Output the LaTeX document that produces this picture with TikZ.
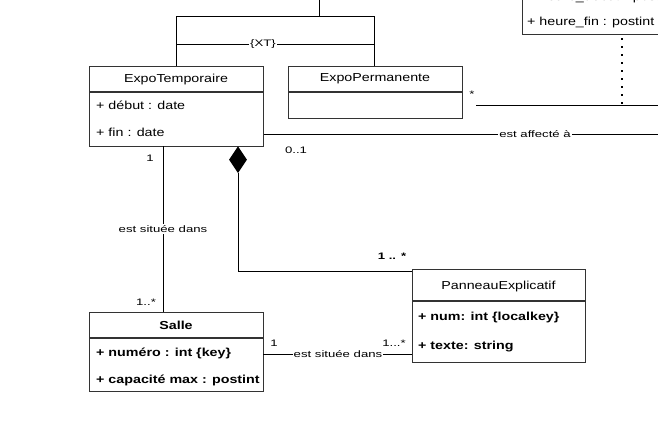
\documentclass[tikz,border=0pt]{standalone}
\usepackage{fontspec}
\setmainfont{Liberation Sans}[FakeStretch=1.23]
\newfontfamily\labfont{Liberation Sans}[FakeStretch=1.4]
\usetikzlibrary{shapes.geometric}
\tikzset{
  x=1pt, y=-1pt,
  cls/.style={draw=black!80, line width=1.2pt, fill=white, inner sep=0pt},
  divl/.style={draw=black!80, line width=1.2pt},
  title/.style={inner sep=0pt, anchor=center, font=\fontsize{11.6}{13}\selectfont},
  attr/.style={inner sep=0pt, anchor=west, font=\fontsize{11.6}{13}\selectfont},
  battr/.style={attr, font=\fontsize{11.6}{13}\selectfont\bfseries},
  conn/.style={draw=black, line width=0.9pt},
  lab/.style={inner sep=1pt, font=\labfont\fontsize{9.4}{11}\selectfont},
  wlab/.style={lab, fill=white},
}
\begin{document}
\begin{tikzpicture}
\useasboundingbox (0,0) rectangle (658,426);
\clip (0,0) rectangle (658,426);

% top-right partial class
\node[cls, minimum width=200, minimum height=80, anchor=south west] (cut) at (522,35) {};
\node[attr] (cuta) at (527,-3) {+ heure\_début : postint};
\node[attr] (cutb) at (527,22) {+ heure\_fin : postint};

% ExpoTemporaire
\node[cls, minimum width=174, minimum height=80, anchor=north west] (et) at (89,66) {};
\draw[divl] (89,92) -- (263,92);
\node[title] (etn) at (176,79) {ExpoTemporaire};
\node[attr] (eta) at (96,105) {+ début : date};
\node[attr] (etb) at (96,132) {+ fin : date};

% ExpoPermanente
\node[cls, minimum width=174, minimum height=52, anchor=north west] (ep) at (288,66) {};
\draw[divl] (288,92) -- (462,92);
\node[title] (epn) at (375,79) {ExpoPermanente};

% Salle
\node[cls, minimum width=174, minimum height=79, anchor=north west] (sa) at (89,312) {};
\draw[divl] (89,338) -- (263,338);
\node[title, font=\fontsize{11.6}{13}\selectfont\bfseries] (san) at (176,325) {Salle};
\node[battr] (saa) at (96,353) {+ numéro : int \{key\}};
\node[battr] (sab) at (96,380) {+ capacité max : postint};

% PanneauExplicatif
\node[cls, minimum width=173, minimum height=93, anchor=north west] (pe) at (412,269) {};
\draw[divl] (412,301) -- (585,301);
\node[title] (pen) at (498.5,286) {PanneauExplicatif};
\node[battr] (pea) at (418,317) {+ num: int \{localkey\}};
\node[battr] (peb) at (418,347) {+ texte: string};

% generalization {XT}
\coordinate (gtop) at (319,0);
\coordinate (gl) at (176,16);
\coordinate (gr) at (374,16);
\draw[conn] (gtop) -- (gtop |- gl);
\draw[conn] (gl) -- (gr);
\draw[conn] (gl) -- (et.north -| gl);
\draw[conn] (gr) -- (ep.north -| gr);
\coordinate (xtl) at (176,44);
\coordinate (xtr) at (374,44);
\draw[conn] (xtl) -- (xtr) node[wlab, midway, xshift=-12pt] (xt) {\{XT\}};

% ExpoPermanente association to the right
\coordinate (epr) at (476,105);
\coordinate (eprr) at (658,105);
\draw[conn] (epr) -- (eprr);
\node[lab] (epm) at (472,94) {*};
\coordinate (dtop) at (622,38);
\coordinate (dbot) at (622,105);
\draw[draw=black, line width=2pt, dash pattern=on 2pt off 6pt] (dtop) -- (dbot);

% est affecte a
\coordinate (aff) at (658,134);
\draw[conn] (et.east |- aff) -- (aff);
\node[wlab] (affl) at (535,134) {est affecté à};
\node[lab] (m01) at (296,150) {0..1};

% ExpoTemporaire - Salle
\coordinate (v1) at (163,146);
\draw[conn] (v1) -- (v1 |- sa.north);
\node[wlab] (sit1) at (163,229) {est située dans};
\node[lab] (m1a) at (150,158) {1};
\node[lab] (m1b) at (146,302) {1..*};

% composition
\node[diamond, fill=black, inner sep=0pt, minimum width=18, minimum height=27, anchor=north] (dia) at (238,146) {};
\coordinate (bend) at (238,271);
\draw[conn] (dia.south) -- (bend) -- (bend -| pe.west);
\node[lab, font=\labfont\fontsize{9.4}{11}\selectfont\bfseries] (m1c) at (392,256) {1 .. *};

% Salle - Panneau
\coordinate (sp) at (263,354);
\draw[conn] (sp) -- (sp -| pe.west);
\node[wlab] (sit2) at (338,354) {est située dans};
\node[lab] (m1d) at (274,343) {1};
\node[lab] (m1e) at (394,343) {1...*};
\end{tikzpicture}
\end{document}
